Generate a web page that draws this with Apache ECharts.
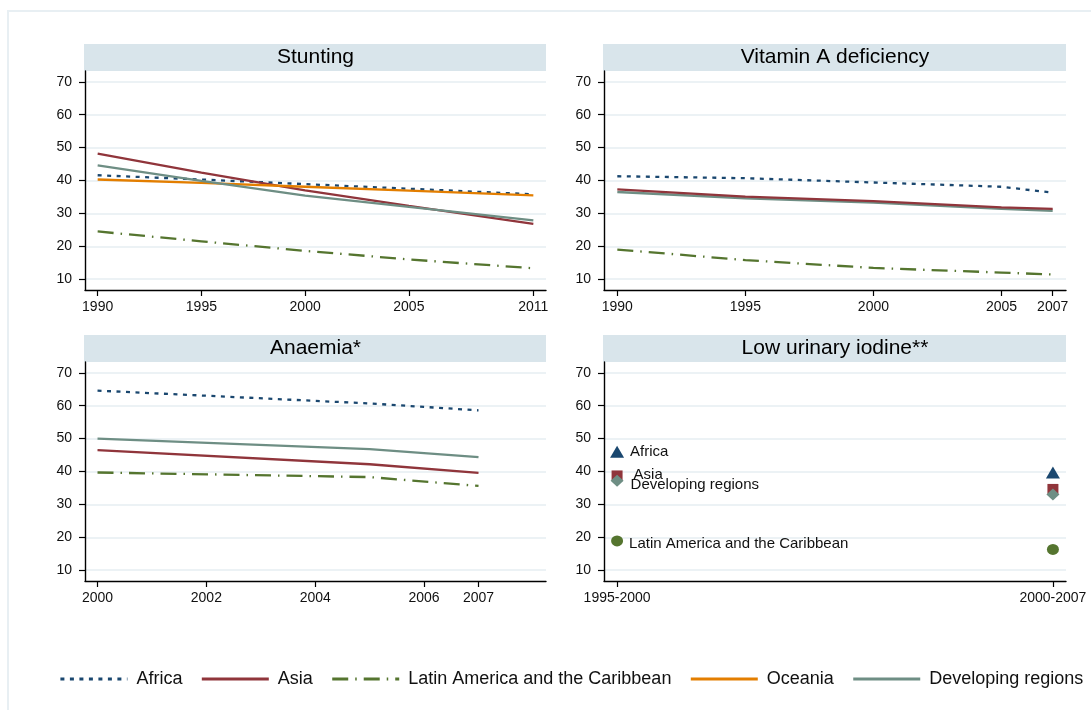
<!DOCTYPE html>
<html>
<head>
<meta charset="utf-8">
<script src="https://cdn.jsdelivr.net/npm/echarts@6/dist/echarts.min.js"></script>
<style>
  html, body { margin: 0; padding: 0; background: #ffffff; }
  #chart { width: 1091px; height: 710px; }
</style>
</head>
<body>
<div id="chart"></div>
<script>
// ---- Data -----------------------------------------------------------
const regions = ['Africa', 'Asia', 'Latin America and the Caribbean', 'Oceania', 'Developing regions'];
const yTicks = [10, 20, 30, 40, 50, 60, 70];

// Stunting (%)
const stuntingYears = [1990, 1995, 2000, 2005, 2011];
const stuntingTicks = [1990, 1995, 2000, 2005, 2011];
const stuntingAfrica = [41.6, 40.3, 38.9, 37.5, 35.8];
const stuntingAsia = [48.2, 42.4, 37.0, 32.3, 26.8];
const stuntingLatin = [24.5, 21.5, 18.6, 16.0, 13.3];
const stuntingOceania = [40.3, 39.3, 38.1, 36.9, 35.5];
const stuntingDeveloping = [44.6, 39.9, 35.4, 32.0, 27.9];

// Vitamin A deficiency (%)
const vitaYears = [1990, 1995, 2000, 2005, 2007];
const vitaTicks = [1990, 1995, 2000, 2005, 2007];
const vitaAfrica = [41.3, 40.7, 39.4, 38.1, 36.3];
const vitaAsia = [37.3, 35.1, 33.7, 31.8, 31.4];
const vitaLatin = [19.0, 15.8, 13.4, 12.0, 11.4];
const vitaDeveloping = [36.5, 34.6, 33.3, 31.4, 30.8];

// Anaemia* (%)
const anaemiaYears = [2000, 2005, 2007];
const anaemiaTicks = [2000, 2002, 2004, 2006, 2007];
const anaemiaAfrica = [64.6, 60.7, 58.6];
const anaemiaAsia = [46.5, 42.2, 39.6];
const anaemiaLatin = [39.7, 38.3, 35.6];
const anaemiaDeveloping = [50.0, 46.8, 44.4];

// Low urinary iodine** (%)
const iodinePeriods = ['1995-2000', '2000-2007'];
const iodineAfrica = [46.0, 39.7];
const iodineAsia = [38.8, 34.7];
const iodineLatin = [18.9, 16.3];
const iodineDeveloping = [37.2, 33.0];

// ---- Styling --------------------------------------------------------
const colors = {
  'Africa': '#1a476f',
  'Asia': '#90353b',
  'Latin America and the Caribbean': '#55752f',
  'Oceania': '#e37e00',
  'Developing regions': '#6e8e84'
};
const dashes = {
  'Africa': [4, 5.5],
  'Asia': 'solid',
  'Latin America and the Caribbean': [16, 7, 1.5, 7],
  'Oceania': 'solid',
  'Developing regions': 'solid'
};
const FONT = '"Liberation Sans", Arial, Helvetica, sans-serif';
const gridLineColor = '#e6eef2';
const stripColor = '#d9e5eb';

const panels = [
  { title: 'Stunting', left: 85, top: 71, width: 461, height: 219, xmin: 1989.39, xmax: 2011.61, ticks: stuntingTicks },
  { title: 'Vitamin A deficiency', left: 604, top: 71, width: 462, height: 219, xmin: 1989.48, xmax: 2007.52, ticks: vitaTicks },
  { title: 'Anaemia*', left: 85, top: 362, width: 461, height: 219, xmin: 1999.77, xmax: 2008.24, ticks: anaemiaTicks },
  { title: 'Low urinary iodine**', left: 604, top: 362, width: 462, height: 219, xmin: -0.03, xmax: 1.03, ticks: [0, 1] }
];

function pairs(xs, ys) { return xs.map((x, i) => [x, ys[i]]); }

function lineSeries(name, panelIdx, xs, ys) {
  return {
    name: name,
    type: 'line',
    xAxisIndex: panelIdx,
    yAxisIndex: panelIdx,
    data: pairs(xs, ys),
    symbol: 'none',
    smooth: false,
    color: colors[name],
    lineStyle: { color: colors[name], width: 2.3, type: dashes[name], cap: 'butt' },
    emphasis: { disabled: true },
    z: 3
  };
}

const iodineMarkers = {
  'Africa': { symbol: 'triangle', size: [14, 12], offset: [0, 0], distance: 6 },
  'Asia': { symbol: 'rect', size: [11, 10], offset: [0, -1], distance: 11 },
  'Latin America and the Caribbean': { symbol: 'circle', size: [12, 11], offset: [0, 3], distance: 6 },
  'Developing regions': { symbol: 'diamond', size: [13, 12], offset: [0, 4], distance: 7 }
};

function iodineSeries(name, vals) {
  const m = iodineMarkers[name];
  return {
    name: name,
    type: 'scatter',
    xAxisIndex: 3,
    yAxisIndex: 3,
    symbol: m.symbol,
    symbolSize: m.size,
    itemStyle: { color: colors[name], opacity: 1 },
    emphasis: { disabled: true },
    data: vals.map((v, i) => ({
      value: [i, v],
      label: {
        show: i === 0,
        position: 'right',
        distance: m.distance,
        offset: m.offset,
        formatter: name,
        color: '#111',
        fontSize: 15,
        fontFamily: FONT
      }
    })),
    z: 4
  };
}

const series = [
  lineSeries('Africa', 0, stuntingYears, stuntingAfrica),
  lineSeries('Asia', 0, stuntingYears, stuntingAsia),
  lineSeries('Latin America and the Caribbean', 0, stuntingYears, stuntingLatin),
  lineSeries('Oceania', 0, stuntingYears, stuntingOceania),
  lineSeries('Developing regions', 0, stuntingYears, stuntingDeveloping),

  lineSeries('Africa', 1, vitaYears, vitaAfrica),
  lineSeries('Developing regions', 1, vitaYears, vitaDeveloping),
  lineSeries('Asia', 1, vitaYears, vitaAsia),
  lineSeries('Latin America and the Caribbean', 1, vitaYears, vitaLatin),

  lineSeries('Africa', 2, anaemiaYears, anaemiaAfrica),
  lineSeries('Asia', 2, anaemiaYears, anaemiaAsia),
  lineSeries('Latin America and the Caribbean', 2, anaemiaYears, anaemiaLatin),
  lineSeries('Developing regions', 2, anaemiaYears, anaemiaDeveloping),

  iodineSeries('Africa', iodineAfrica),
  iodineSeries('Asia', iodineAsia),
  iodineSeries('Latin America and the Caribbean', iodineLatin),
  iodineSeries('Developing regions', iodineDeveloping)
];

const axisText = { color: '#111', fontSize: 14, fontFamily: FONT };

const option = {
  backgroundColor: '#ffffff',
  animation: false,
  textStyle: { fontFamily: FONT },
  grid: panels.map(p => ({ left: p.left, top: p.top, width: p.width, height: p.height, containLabel: false })),
  xAxis: panels.map((p, i) => ({
    type: 'value',
    gridIndex: i,
    min: p.xmin,
    max: p.xmax,
    axisLine: { show: true, onZero: false, lineStyle: { color: '#000', width: 1.4 } },
    axisTick: { show: true, length: 6, customValues: p.ticks, lineStyle: { color: '#000', width: 1.2 } },
    axisLabel: Object.assign({
      customValues: p.ticks,
      margin: 10,
      formatter: i === 3 ? (v => iodinePeriods[Math.round(v)]) : (v => String(v))
    }, axisText),
    splitLine: { show: false }
  })),
  yAxis: panels.map((p, i) => ({
    type: 'value',
    gridIndex: i,
    min: 6.7,
    max: 73.3,
    axisLine: { show: true, onZero: false, lineStyle: { color: '#000', width: 1.4 } },
    axisTick: { show: true, length: 6, customValues: yTicks, lineStyle: { color: '#000', width: 1.2 } },
    axisLabel: Object.assign({ customValues: yTicks, margin: 13 }, axisText),
    splitLine: { show: true, lineStyle: { color: gridLineColor, width: 1.5 } }
  })),
  legend: {
    data: regions,
    left: 59,
    top: 670,
    width: 1100,
    padding: 0,
    itemWidth: 67,
    itemHeight: 14,
    itemGap: 18,
    selectedMode: false,
    itemStyle: { opacity: 0 },
    lineStyle: { width: 2.8 },
    textStyle: { color: '#111', fontSize: 18, fontFamily: FONT, padding: [0, 0, 0, 4] }
  },
  graphic: [
    {
      type: 'rect',
      shape: { x: 8, y: 11, width: 1200, height: 800 },
      style: { fill: 'none', stroke: '#e8eff3', lineWidth: 2 },
      silent: true, z: -10
    }
  ].concat(panels.flatMap(p => ([
    {
      type: 'rect',
      shape: { x: p.left - 1, y: p.top - 27, width: p.width + 1, height: 27 },
      style: { fill: stripColor },
      silent: true, z: -5
    },
    {
      type: 'text',
      x: p.left + p.width / 2,
      y: p.top - 13.5,
      style: {
        text: p.title,
        fill: '#000',
        font: '21px ' + FONT,
        textAlign: 'center',
        textVerticalAlign: 'middle'
      },
      silent: true
    }
  ]))),
  series: series
};

const chart = echarts.init(document.getElementById('chart'), null, { renderer: 'canvas' });
chart.setOption(option);
</script>
</body>
</html>
